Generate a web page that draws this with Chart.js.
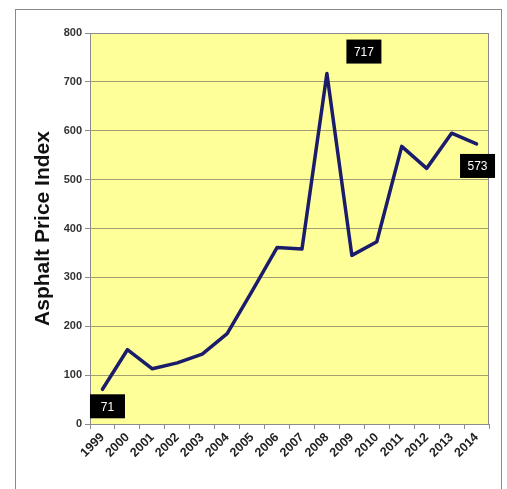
<!DOCTYPE html>
<html>
<head>
<meta charset="utf-8">
<script src="https://cdn.jsdelivr.net/npm/chart.js@4.4.1/dist/chart.umd.min.js"></script>
<style>
  body { margin: 0; background: #fff; }
  #wrap { width: 507px; height: 489px; }
</style>
</head>
<body>
<div id="wrap"><canvas id="chart" width="507" height="489"></canvas></div>
<script>
const years = ['1999', '2000', '2001', '2002', '2003', '2004', '2005', '2006',
    '2007', '2008', '2009', '2010', '2011', '2012', '2013', '2014'];
const priceIndex = [71, 152, 113, 125, 143, 185, 272, 361, 358, 717, 345, 373, 568, 523, 595, 573];
// which points get a black value box, and where the box sits relative to the point
const callouts = [
    { index: 0, dx: 5, dy: 17 },
    { index: 9, dx: 37, dy: -22 },
    { index: 15, dx: 1, dy: 22 }
];

const ctx = document.querySelector('#chart').getContext('2d');

// yellow plot area, outer frame and plot border
const backdrop = {
    id: 'backdrop',
    beforeDraw(chart) {
        const { ctx, chartArea: a } = chart;
        ctx.save();
        ctx.strokeStyle = '#8a8a8a';
        ctx.lineWidth = 1;
        ctx.strokeRect(15.5, 9.5, 486, 500);
        ctx.fillStyle = '#ffff99';
        ctx.fillRect(a.left, a.top, a.right - a.left, a.bottom - a.top);
        ctx.restore();
    },
    afterDraw(chart) {
        const { ctx, chartArea: a } = chart;
        ctx.save();
        ctx.strokeStyle = '#8c8c8c';
        ctx.lineWidth = 1;
        ctx.strokeRect(a.left + 0.5, a.top + 0.5, a.right - a.left - 1, a.bottom - a.top);
        ctx.restore();
    }
};

// black boxes with white value text
const valueBoxes = {
    id: 'valueBoxes',
    afterDraw(chart) {
        const { ctx } = chart;
        const meta = chart.getDatasetMeta(0);
        ctx.save();
        ctx.font = '12px Arial, "Liberation Sans", sans-serif';
        ctx.textAlign = 'center';
        ctx.textBaseline = 'middle';
        callouts.forEach(c => {
            const pt = meta.data[c.index];
            const cx = pt.x + c.dx;
            const cy = pt.y + c.dy;
            const w = 35, h = 24;
            ctx.fillStyle = '#000';
            ctx.fillRect(cx - w / 2, cy - h / 2, w, h);
            ctx.fillStyle = '#fff';
            ctx.fillText(String(priceIndex[c.index]), cx, cy + 1);
        });
        ctx.restore();
    }
};

new Chart(ctx, {
    type: 'line',
    data: {
        labels: years,
        datasets: [
            {
                label: 'Asphalt Price Index',
                data: priceIndex,
                borderColor: '#1c1c6c',
                borderWidth: 3.5,
                pointRadius: 0,
                tension: 0,
                borderJoinStyle: 'round',
                borderCapStyle: 'round'
            }
        ]
    },
    options: {
        responsive: false,
        animation: false,
        layout: { padding: { left: 0, right: 18, top: 33, bottom: 0 } },
        plugins: {
            legend: { display: false },
            tooltip: { enabled: false }
        },
        scales: {
            x: {
                offset: true,
                grid: {
                    offset: true,
                    drawOnChartArea: false,
                    tickLength: 5,
                    tickColor: '#8c8c8c'
                },
                border: { color: '#8c8c8c' },
                ticks: {
                    autoSkip: false,
                    minRotation: 45,
                    maxRotation: 45,
                    padding: 1,
                    color: '#222',
                    font: { family: 'Arial, "Liberation Sans", sans-serif', size: 12.5, weight: 'bold' }
                },
                afterFit(scale) { scale.height = 65; }
            },
            y: {
                min: 0,
                max: 800,
                ticks: {
                    stepSize: 100,
                    padding: 3,
                    color: '#333',
                    font: { family: 'Arial, "Liberation Sans", sans-serif', size: 11, weight: 'bold' }
                },
                grid: {
                    color: '#a3a070',
                    tickLength: 5,
                    tickColor: '#8c8c8c'
                },
                border: { color: '#8c8c8c' },
                title: {
                    display: true,
                    text: 'Asphalt Price Index',
                    color: '#111',
                    padding: { top: 31, bottom: 0 },
                    font: { family: 'Arial, "Liberation Sans", sans-serif', size: 21, weight: 'bold' }
                },
                afterFit(scale) { scale.width = 90; }
            }
        }
    },
    plugins: [backdrop, valueBoxes]
});
</script>
</body>
</html>
